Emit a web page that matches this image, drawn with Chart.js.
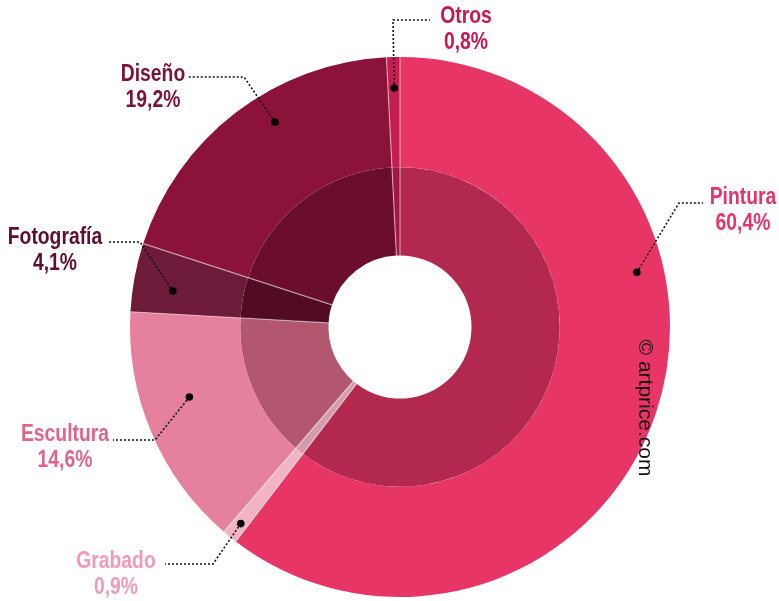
<!DOCTYPE html>
<html>
<head>
<meta charset="utf-8">
<script src="https://cdn.jsdelivr.net/npm/chart.js@4.4.1/dist/chart.umd.min.js"></script>
<style>
  html, body { margin: 0; padding: 0; background: #ffffff; }
  #wrap { position: relative; width: 779px; height: 601px; }
</style>
</head>
<body>
<div id="wrap"><canvas id="c"></canvas></div>
<script>
// ---- data ----
const categories = ["Pintura", "Grabado", "Escultura", "Fotografía", "Diseño", "Otros"];
const shares = [60.4, 0.9, 14.6, 4.1, 19.2, 0.8];
const valueLabels = ["60,4%", "0,9%", "14,6%", "4,1%", "19,2%", "0,8%"];

// ---- styles ----
const outerColors = ["#e73566", "#f2b3c4", "#e5819e", "#6e1b3b", "#8b1339", "#c41d4f"];
const innerColors = ["#b3284f", "#d69aad", "#b3566f", "#520b25", "#6b0e2d", "#a01843"];
const textColors  = ["#e8336a", "#f29ab5", "#e0648a", "#5e0e2c", "#7d1035", "#c8174d"];

// annotation layout (angle in degrees clockwise from top, radius in px; label center, elbow, line end)
const annot = [
  { ang: 77,    r: 243, elbow: [679, 203], end: [703, 203], label: [743, 198] },
  { ang: 219,   r: 253, elbow: [213, 564], end: [165, 564], label: [116, 562] },
  { ang: 251.6, r: 222, elbow: [155, 440], end: [113, 440], label: [65, 435] },
  { ang: 279,   r: 230, elbow: [140, 242], end: [108, 242], label: [55, 238] },
  { ang: 328.6, r: 240, elbow: [244, 77],  end: [187, 77],  label: [153, 75] },
  { ang: 358.6, r: 239, elbow: [393, 20],  end: [430, 20],  label: [466, 17] }
];

const FONT = '"Liberation Sans", Arial, sans-serif';

const annotPlugin = {
  id: 'annot',
  afterDatasetsDraw(chart) {
    const ctx = chart.ctx;
    const outer = chart.getDatasetMeta(0).data;
    const inner = chart.getDatasetMeta(1).data;
    const cx = outer[0].x, cy = outer[0].y;
    const rIn = inner[0].innerRadius, rOut = outer[0].outerRadius;
    ctx.save();
    // radial separators between slices
    ctx.strokeStyle = 'rgba(255,255,255,0.5)';
    ctx.lineWidth = 1.2;
    outer.forEach(arc => {
      const a = arc.startAngle;
      ctx.beginPath();
      ctx.moveTo(cx + rIn * Math.cos(a), cy + rIn * Math.sin(a));
      ctx.lineTo(cx + rOut * Math.cos(a), cy + rOut * Math.sin(a));
      ctx.stroke();
    });
    categories.forEach((cat, i) => {
      const a = annot[i];
      const th = a.ang * Math.PI / 180;
      const dx = cx + a.r * Math.sin(th);
      const dy = cy - a.r * Math.cos(th);
      // dotted leader
      ctx.strokeStyle = '#111';
      ctx.lineWidth = 1.6;
      ctx.setLineDash([2, 2]);
      ctx.beginPath();
      ctx.moveTo(dx, dy);
      ctx.lineTo(a.elbow[0], a.elbow[1]);
      ctx.lineTo(a.end[0], a.end[1]);
      ctx.stroke();
      ctx.setLineDash([]);
      // dot
      ctx.fillStyle = '#000';
      ctx.beginPath();
      ctx.arc(dx, dy, 3.8, 0, Math.PI * 2);
      ctx.fill();
      // label text (condensed by horizontal scaling)
      ctx.save();
      ctx.translate(a.label[0], a.label[1]);
      ctx.scale(0.84, 1);
      ctx.fillStyle = textColors[i];
      ctx.font = 'bold 23px ' + FONT;
      ctx.textAlign = 'center';
      ctx.textBaseline = 'middle';
      ctx.fillText(cat, 0, 0);
      ctx.fillText(valueLabels[i], 0, 26);
      ctx.restore();
    });
    // copyright, rotated
    ctx.save();
    ctx.translate(645, 408);
    ctx.rotate(Math.PI / 2);
    ctx.fillStyle = '#111';
    ctx.font = '21px ' + FONT;
    ctx.textAlign = 'center';
    ctx.textBaseline = 'middle';
    ctx.fillText('© artprice.com', 0, 0);
    ctx.restore();
    ctx.restore();
  }
};

new Chart(document.getElementById('c'), {
  type: 'doughnut',
  data: {
    labels: categories,
    datasets: [
      { data: shares, backgroundColor: outerColors, borderWidth: 0, weight: 110 },
      { data: shares, backgroundColor: innerColors, borderWidth: 0, weight: 88 }
    ]
  },
  options: {
    responsive: true,
    maintainAspectRatio: false,
    animation: false,
    cutout: '26.5%',
    rotation: 0,
    layout: { padding: { top: 57, bottom: 4, left: 130, right: 109 } },
    plugins: { legend: { display: false }, tooltip: { enabled: false } }
  },
  plugins: [annotPlugin]
});
</script>
</body>
</html>
